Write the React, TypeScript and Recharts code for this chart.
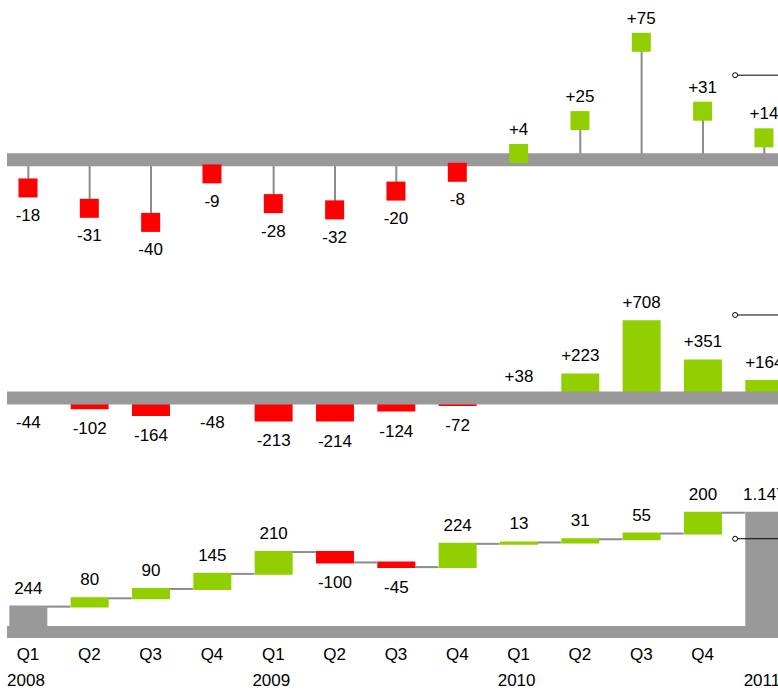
import React from 'react';
import { ComposedChart, Bar, Line, XAxis, YAxis, ReferenceLine, ReferenceDot, Cell, LabelList } from 'recharts';

const quarters = ['Q1', 'Q2', 'Q3', 'Q4', 'Q1', 'Q2', 'Q3', 'Q4', 'Q1', 'Q2', 'Q3', 'Q4', ''];
const years = ['2008', '', '', '', '2009', '', '', '', '2010', '', '', '', '2011'];
const pctChange = [-18, -31, -40, -9, -28, -32, -20, -8, 4, 25, 75, 31, 14];
const absChange = [-44, -102, -164, -48, -213, -214, -124, -72, 38, 223, 708, 351, 164];
const waterfallValues = [244, 80, 90, 145, 210, -100, -45, 224, 13, 31, 55, 200, 1147];
const totalFlags = [true, false, false, false, false, false, false, false, false, false, false, false, true];
const annotationLevels = [54, 755, 897];
const annotationStart = 11.53;

const GREEN = '#92CF00';
const RED = '#FF0000';
const BAND = '#999999';
const STEM = '#8C8C8C';
const TOTAL = '#999999';
const FONT = '"Liberation Sans", Arial, Helvetica, sans-serif';

const CHART_W = 800;
const MARGIN_LEFT = 7;
const X_DOMAIN: [number, number] = [-0.3424, 12.588];
const BAR_HALF = 0.31;

const signed = (v: number) => (v > 0 ? `+${v}` : `${v}`);
const thousands = (v: number) => String(v).replace(/\B(?=(\d{3})+(?!\d))/g, '.');

let running = 0;
const rows = quarters.map((q, i) => {
  const v = waterfallValues[i];
  let lo = 0;
  let hi = 0;
  if (totalFlags[i]) {
    lo = 0;
    hi = v;
    running = v;
  } else {
    const prev = running;
    running = prev + v;
    lo = Math.min(prev, running);
    hi = Math.max(prev, running);
  }
  return {
    idx: i,
    quarter: q,
    year: years[i],
    pct: pctChange[i],
    abs: absChange[i],
    wf: v,
    total: totalFlags[i],
    lo,
    hi,
    cum: running,
  };
});

const connectors = rows.slice(0, rows.length - 1).map((r) => ({
  x1: r.idx + BAR_HALF,
  x2: r.idx + 1 - BAR_HALF,
  y: r.cum,
}));

const textStyle = { fontFamily: FONT, fontSize: 17, fill: '#000' };

const SquareDot = (props: any) => {
  const { cx, cy, payload, index } = props;
  if (cx == null || cy == null) return <g key={`d${index}`} />;
  const v = payload.pct;
  const s = 19;
  return (
    <g key={`d${index}`}>
      <rect x={cx - s / 2} y={cy - s / 2} width={s} height={s} fill={v >= 0 ? GREEN : RED} />
      <text x={cx} y={v >= 0 ? cy - 18.5 : cy + 33} textAnchor="middle" style={textStyle}>
        {signed(v)}
      </text>
    </g>
  );
};

const barLabel = (valueOf: (i: number) => string, negOf: (i: number) => boolean, pad: number) => (props: any) => {
  const { x, y, width, height, index } = props;
  const top = Math.min(y, y + height) - pad;
  const bottom = Math.max(y, y + height) + pad;
  const neg = negOf(index);
  return (
    <text
      key={`l${index}`}
      x={x + width / 2}
      y={neg ? bottom + 25 : top - 12}
      textAnchor="middle"
      style={textStyle}
    >
      {valueOf(index)}
    </text>
  );
};

const AxisTick = (props: any) => {
  const { x, y, payload } = props;
  const r = rows[payload.value];
  if (!r) return <g />;
  return (
    <g>
      <text x={x} y={y + 20} textAnchor="middle" style={textStyle}>
        {r.quarter}
      </text>
      <text x={x - 2} y={y + 46} textAnchor="middle" style={textStyle}>
        {r.year}
      </text>
    </g>
  );
};

export default function App() {
  return (
    <div
      style={{
        position: 'absolute',
        left: 0,
        top: 0,
        width: 778,
        height: 691,
        overflow: 'hidden',
        background: '#fff',
      }}
    >
      <ComposedChart width={CHART_W} height={260} data={rows} margin={{ top: 0, right: 0, bottom: 0, left: MARGIN_LEFT }}>
        <XAxis dataKey="idx" type="number" domain={X_DOMAIN} allowDataOverflow hide />
        <YAxis type="number" domain={[-64, 102]} allowDataOverflow hide />
        <Bar dataKey="pct" barSize={2} fill={STEM} isAnimationActive={false} />
        <ReferenceLine y={0} stroke={BAND} strokeWidth={13} />
        <ReferenceLine
          segment={[
            { x: annotationStart, y: annotationLevels[0] },
            { x: X_DOMAIN[1], y: annotationLevels[0] },
          ]}
          stroke="#000"
          strokeWidth={1}
          ifOverflow="visible"
        />
        <ReferenceDot x={annotationStart} y={annotationLevels[0]} r={2.5} fill="#fff" stroke="#000" strokeWidth={1} />
        <Line dataKey="pct" stroke="none" dot={SquareDot} activeDot={false} isAnimationActive={false} />
      </ComposedChart>

      <ComposedChart width={CHART_W} height={210} data={rows} margin={{ top: 0, right: 0, bottom: 0, left: MARGIN_LEFT }}>
        <XAxis dataKey="idx" type="number" domain={X_DOMAIN} allowDataOverflow hide />
        <YAxis type="number" domain={[-655, 1255]} allowDataOverflow hide />
        <Bar dataKey="abs" barSize={38} isAnimationActive={false}>
          {rows.map((r) => (
            <Cell key={r.idx} fill={r.abs >= 0 ? GREEN : RED} />
          ))}
          <LabelList dataKey="abs" content={barLabel((i) => signed(rows[i].abs), (i) => rows[i].abs < 0, 0)} />
        </Bar>
        <ReferenceLine y={0} stroke={BAND} strokeWidth={13} />
        <ReferenceLine
          segment={[
            { x: annotationStart, y: annotationLevels[1] },
            { x: X_DOMAIN[1], y: annotationLevels[1] },
          ]}
          stroke="#000"
          strokeWidth={1}
          ifOverflow="visible"
        />
        <ReferenceDot x={annotationStart} y={annotationLevels[1]} r={2.5} fill="#fff" stroke="#000" strokeWidth={1} />
      </ComposedChart>

      <ComposedChart width={CHART_W} height={221} data={rows} margin={{ top: 0, right: 0, bottom: 0, left: MARGIN_LEFT }}>
        <XAxis
          dataKey="idx"
          type="number"
          domain={X_DOMAIN}
          allowDataOverflow
          ticks={rows.map((r) => r.idx)}
          interval={0}
          axisLine={false}
          tickLine={false}
          tickSize={0}
          tickMargin={0}
          height={51}
          tick={AxisTick}
        />
        <YAxis type="number" domain={[-77, 1558]} allowDataOverflow hide />
        {connectors.map((c, i) => (
          <ReferenceLine
            key={`c${i}`}
            segment={[
              { x: c.x1, y: c.y },
              { x: c.x2, y: c.y },
            ]}
            stroke={STEM}
            strokeWidth={2}
            ifOverflow="visible"
          />
        ))}
        <Bar dataKey={(d: any) => [d.lo, d.hi]} barSize={36} isAnimationActive={false}>
          {rows.map((r) => {
            const c = r.total ? TOTAL : r.wf >= 0 ? GREEN : RED;
            return <Cell key={r.idx} fill={c} stroke={c} strokeWidth={2} />;
          })}
          <LabelList
            content={barLabel((i) => thousands(rows[i].wf), (i) => !rows[i].total && rows[i].wf < 0, 1)}
          />
        </Bar>
        <ReferenceLine y={0} stroke={BAND} strokeWidth={12} />
        <ReferenceLine
          segment={[
            { x: annotationStart, y: annotationLevels[2] },
            { x: X_DOMAIN[1], y: annotationLevels[2] },
          ]}
          stroke="#000"
          strokeWidth={1}
          ifOverflow="visible"
        />
        <ReferenceDot x={annotationStart} y={annotationLevels[2]} r={2.5} fill="#fff" stroke="#000" strokeWidth={1} />
      </ComposedChart>
    </div>
  );
}
